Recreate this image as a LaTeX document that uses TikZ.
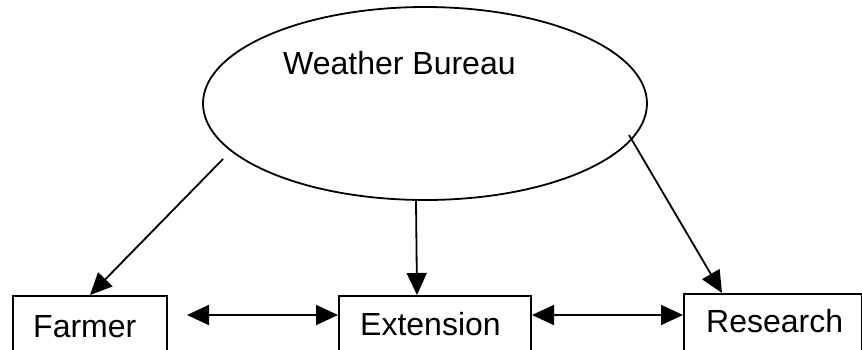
\documentclass[tikz,border=0pt]{standalone}
\usepackage{fontspec}
\setmainfont{Liberation Sans}
\usetikzlibrary{arrows.meta,shapes.geometric,calc}
\begin{document}
\begin{tikzpicture}[x=1pt,y=-1pt,
  lbl/.style={inner sep=0pt,anchor=base west,font=\fontsize{32}{38}\selectfont},
  unit/.style={draw,line width=2pt,inner sep=0pt,anchor=north west,minimum height=80pt},
  arr/.style={line width=1.8pt,-{Triangle[length=22pt,width=20pt]}},
  biarr/.style={line width=1.8pt,{Triangle[length=22pt,width=20pt]}-{Triangle[length=22pt,width=20pt]}}]
  \useasboundingbox (0,0) rectangle (862,349);
  \clip (0,0) rectangle (862,349);

  % bureau
  \node[draw,ellipse,line width=1.8pt,minimum width=444pt,minimum height=193pt,inner sep=0pt] (wb) at (425,103.5) {};
  \node[lbl] (wbt) at (283,74) {Weather Bureau};

  % the three units, open at the bottom edge
  \node[unit,minimum width=154pt] (farmer) at (12,295) {};
  \node[unit,minimum width=192pt] (ext) at (338,295) {};
  \node[unit,minimum width=178pt] (res) at (683,293) {};
  \node[lbl] (farmert) at (33,337) {Farmer};
  \node[lbl] (extt) at (360,335) {Extension};
  \node[lbl] (rest) at (706,332) {Research};

  % bureau to units
  \coordinate (wbl) at (223,159);
  \coordinate (wbr) at (629,135);
  \draw[arr] (wbl) -- ([xshift=78pt]farmer.north west);
  \draw[arr] ([xshift=-9pt]wb.south) -- ([xshift=-18pt]ext.north);
  \draw[arr] (wbr) -- ([xshift=39pt]res.north west);

  % exchanges between units
  \draw[biarr] ($(farmer.north east)+(19,20)$) -- ($(ext.north west)+(0,20)$);
  \draw[biarr] ($(ext.north east)+(0,20)$) -- ($(res.north west)+(0,22)$);
\end{tikzpicture}
\end{document}
